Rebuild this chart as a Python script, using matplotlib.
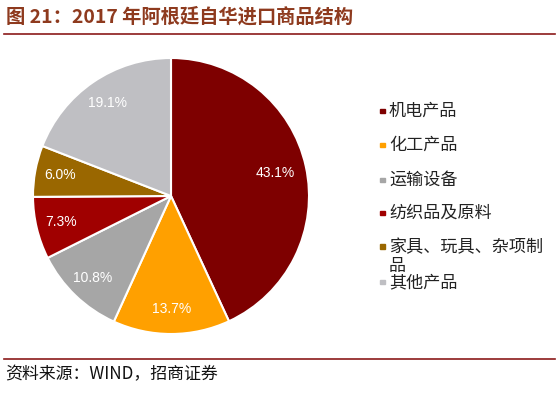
import matplotlib
matplotlib.use("Agg")
import matplotlib.pyplot as plt
import numpy as np

plt.rcParams['font.family'] = ['Noto Sans CJK SC', 'DejaVu Sans']

categories = ['机电产品', '化工产品', '运输设备', '纺织品及原料', '家具、玩具、杂项制品', '其他产品']
values = [43.1, 13.7, 10.8, 7.3, 6.0, 19.1]
colors = ['#7E0000', '#FFA000', '#A6A6A6', '#A00000', '#9A6700', '#BFBFC3']
title = '图 21：2017 年阿根廷自华进口商品结构'
source = '资料来源：WIND，招商证券'

W, H = 559, 394
fig = plt.figure(figsize=(W / 100, H / 100), dpi=100)

def fx(x):
    return x / W

def fy(y):
    return 1 - y / H

# pie axes: center (171,196), radius 138
cx, cy, r = 171, 196, 138
ax = fig.add_axes([fx(cx - r), fy(cy + r), 2 * r / W, 2 * r / H])
wedges, texts, autotexts = ax.pie(
    values, colors=colors, startangle=90, counterclock=False,
    autopct='%1.1f%%', pctdistance=0.82,
    wedgeprops=dict(edgecolor='white', linewidth=1.5),
    textprops=dict(color='white', fontsize=10, family=['Liberation Sans', 'DejaVu Sans']))
# nudge the biggest label inward slightly
x0, y0 = autotexts[0].get_position()
autotexts[0].set_position((x0 * 0.94, y0 * 0.94))
ax.set_xlim(-1, 1)
ax.set_ylim(-1, 1)
ax.set_aspect('auto')
ax.axis('off')

# legend (manual)
row_y = [111, 145, 180, 213, 247, 282]
for i, (lab, col) in enumerate(zip(categories, colors)):
    y = row_y[i]
    fig.patches.append(plt.Rectangle((fx(380), fy(y + 2)), 4.5 / W, 4.5 / H,
                                     transform=fig.transFigure, color=col))
    if lab == '家具、玩具、杂项制品':
        fig.text(fx(389), fy(y), lab[:-1], fontsize=12.3, va='center', ha='left', color='#222222')
        fig.text(fx(389), fy(y + 19), lab[-1], fontsize=12.3, va='center', ha='left', color='#222222')
    else:
        fig.text(fx(389), fy(y), lab, fontsize=12.3, va='center', ha='left', color='#222222')

# title and lines
fig.text(fx(6), fy(17), title, fontsize=13.9, fontweight='bold', color='#8E3A1E',
         va='center', ha='left')
fig.add_artist(plt.Line2D([fx(4), fx(555)], [fy(34), fy(34)], color='#8B1A1A', lw=1.2))
fig.add_artist(plt.Line2D([fx(4), fx(555)], [fy(359), fy(359)], color='#8B1A1A', lw=1.2))
fig.text(fx(5), fy(374), source, fontsize=12.2, color='#111111', va='center', ha='left')

fig.savefig('out.png', dpi=100)
